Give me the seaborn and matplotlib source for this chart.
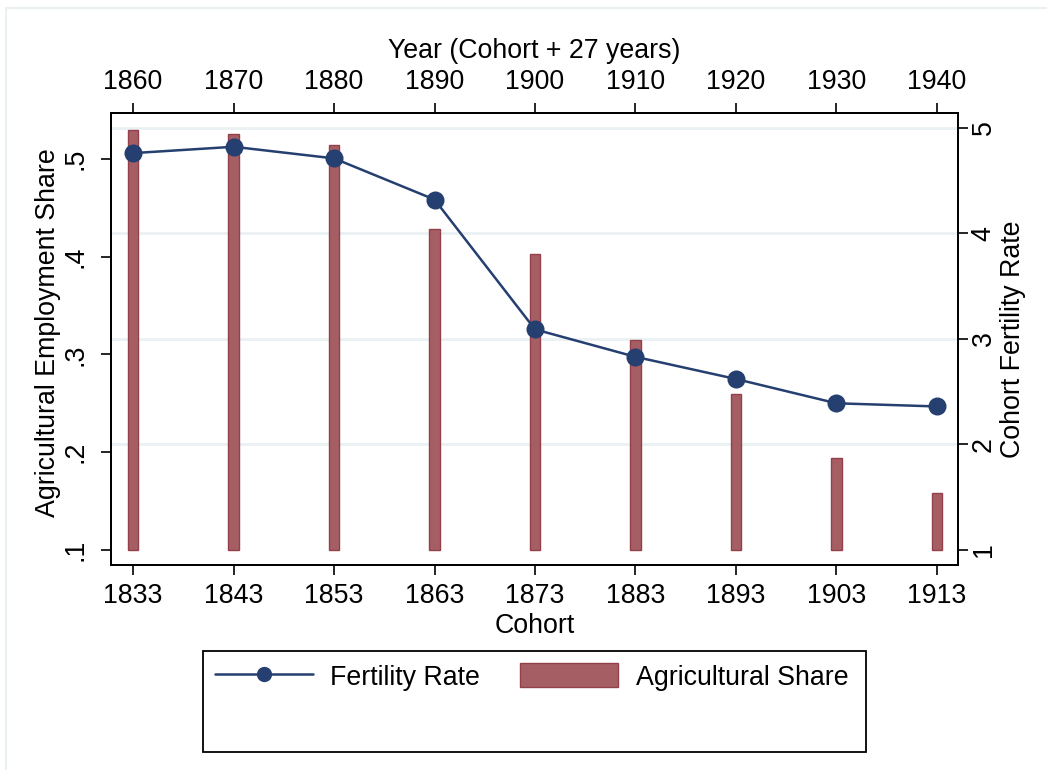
import matplotlib
matplotlib.use("Agg")
import matplotlib.pyplot as plt
import seaborn as sns
import pandas as pd
from matplotlib.lines import Line2D
from matplotlib.patches import Patch, Rectangle

# Data
cohort = [1833, 1843, 1853, 1863, 1873, 1883, 1893, 1903, 1913]
fertility = [4.76, 4.82, 4.71, 4.32, 3.09, 2.83, 2.62, 2.39, 2.36]
ag_share = [0.530, 0.526, 0.514, 0.428, 0.403, 0.315, 0.260, 0.194, 0.158]
year_ticks = [1860, 1870, 1880, 1890, 1900, 1910, 1920, 1930, 1940]
share_ticks = [0.1, 0.2, 0.3, 0.4, 0.5]
share_labels = [".1", ".2", ".3", ".4", ".5"]
fert_ticks = [1, 2, 3, 4, 5]
grid_ticks = [2, 3, 4, 5]

df = pd.DataFrame({"cohort": cohort, "fertility": fertility, "share": ag_share})

sns.set_style("white")
plt.rcParams["font.family"] = ["Liberation Sans", "DejaVu Sans"]
plt.rcParams.update({"text.color": "black", "axes.labelcolor": "black",
                     "xtick.color": "black", "ytick.color": "black"})
FS = 19.3
NAVY = "#243f70"
BAR = "#a65e65"
BAR_EDGE = "#93404b"
GRID = "#eaf1f3"
TICK = 7.5

W, H = 1047, 770
fig = plt.figure(figsize=(W / 100, H / 100), dpi=100)

# faint outer frame (top/left visible like the original export)
fig.patches.append(Rectangle((6 / W, -0.01), 1.02, 1 - 8 / H + 0.01, transform=fig.transFigure,
                             fill=False, edgecolor=GRID, linewidth=1.5))

x0, x1, y0, y1 = 111, 958, 113, 565
rect = [x0 / W, 1 - y1 / H, (x1 - x0) / W, (y1 - y0) / H]
xlim = (1830.8, 1915.1)
fert_lim = (0.858, 5.14)
share_lim = (0.0847, 0.547)

# background axes for gridlines (fertility scale)
ax_grid = fig.add_axes(rect, zorder=0)
ax_grid.set_xlim(*xlim)
ax_grid.set_ylim(*fert_lim)
ax_grid.set_yticks(grid_ticks)
ax_grid.set_xticks([])
ax_grid.grid(axis="y", color=GRID, linewidth=2)
ax_grid.tick_params(left=False, labelleft=False)
for s in ax_grid.spines.values():
    s.set_visible(False)

# bars on left axis
ax = fig.add_axes(rect, zorder=1)
ax.patch.set_alpha(0)
base = share_ticks[0]
ax.bar(df["cohort"], df["share"] - base, bottom=base, width=1.05,
       color=BAR, edgecolor=BAR_EDGE, linewidth=1)
ax.set_xlim(*xlim)
ax.set_ylim(*share_lim)
ax.set_yticks(share_ticks)
ax.set_yticklabels(share_labels, rotation=90, va="center", ha="center")
ax.set_xticks(cohort)
ax.set_xlabel("Cohort", fontsize=FS, labelpad=3)
ax.set_ylabel("Agricultural Employment Share", fontsize=FS)
ax.yaxis.set_label_coords((48 - x0) / (x1 - x0), 0.513)
ax.yaxis.label.set_va("center")
ax.tick_params(axis="x", direction="out", length=TICK, width=1.2, labelsize=FS, pad=5.5, bottom=True)
ax.tick_params(axis="y", direction="out", length=TICK, width=1.2, labelsize=FS, pad=18.4, left=True)

# line on right axis
ax2 = ax.twinx()
ax2.set_zorder(2)
ax2.patch.set_alpha(0)
sns.lineplot(data=df, x="cohort", y="fertility", ax=ax2, color=NAVY, linewidth=1.8,
             marker="o", markersize=13, markeredgecolor=NAVY, markeredgewidth=0)
ax2.set_xlim(*xlim)
ax2.set_ylim(*fert_lim)
ax2.set_yticks(fert_ticks)
ax2.set_yticklabels([str(t) for t in fert_ticks], rotation=90, va="center", ha="center")
ax2.set_ylabel("Cohort Fertility Rate", fontsize=FS)
ax2.yaxis.set_label_coords((1013 - x0) / (x1 - x0), 0.5)
ax2.yaxis.label.set_va("center")
ax2.set_xlabel("")
ax2.tick_params(axis="y", direction="out", length=TICK, width=1.2, labelsize=FS, pad=11, right=True)

for a in (ax, ax2):
    for s in a.spines.values():
        s.set_color("black")
        s.set_linewidth(1.3)

# top axis: year = cohort + 27
top = ax.secondary_xaxis("top", functions=(lambda c: c + 27, lambda y: y - 27))
top.set_xticks(year_ticks)
top.set_xlabel("Year (Cohort + 27 years)", fontsize=FS, labelpad=8)
top.tick_params(direction="out", length=TICK, width=1.2, labelsize=FS, pad=5.5)
top.spines["top"].set_linewidth(1.3)

# legend with box
lx0, lx1, ly0, ly1 = 203, 866, 651, 752
fig.patches.append(Rectangle((lx0 / W, 1 - ly1 / H), (lx1 - lx0) / W, (ly1 - ly0) / H,
                             transform=fig.transFigure, fill=False, edgecolor="black", linewidth=1.3))
handles = [Line2D([], [], color=NAVY, linewidth=1.8, marker="o", markersize=11, markeredgewidth=0),
           Patch(facecolor=BAR, edgecolor=BAR_EDGE)]
fig.legend(handles, ["Fertility Rate", "Agricultural Share"], ncol=2, frameon=False,
           fontsize=FS, loc="center left", bbox_to_anchor=(215 / W, 1 - 677 / H),
           handlelength=3.65, handleheight=1.0, handletextpad=0.65, columnspacing=1.5,
           borderpad=0, borderaxespad=0)

fig.savefig("out.png", dpi=100, facecolor="white")
